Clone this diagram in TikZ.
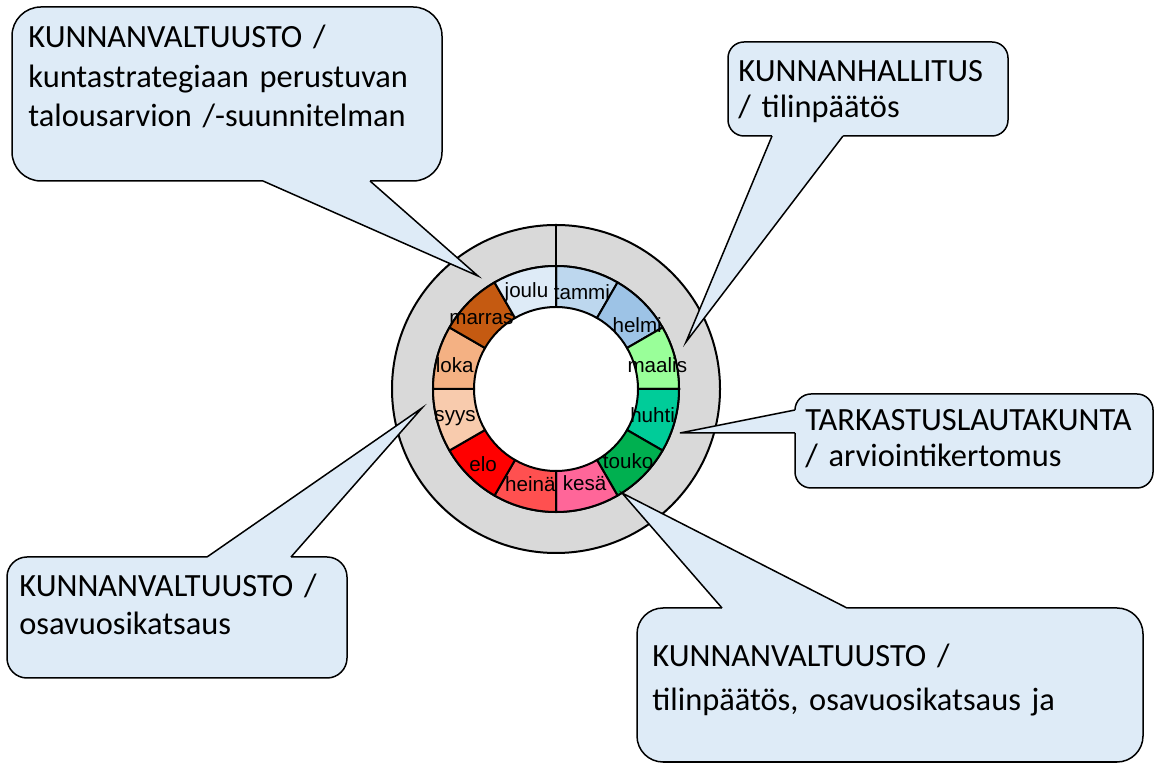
\documentclass[tikz,border=0pt]{standalone}
\usepackage{fontspec}
\setmainfont{Liberation Sans}
\newfontfamily\callfont{Carlito}
\usetikzlibrary{calc}

\definecolor{ringgray}{HTML}{D9D9D9}
\definecolor{boxblue}{HTML}{DEEBF7}
\definecolor{tammicol}{HTML}{BDD7EE}
\definecolor{helmicol}{HTML}{9DC3E6}
\definecolor{maaliscol}{HTML}{99FF99}
\definecolor{huhticol}{HTML}{00CC99}
\definecolor{toukocol}{HTML}{00B050}
\definecolor{kesacol}{HTML}{FF6699}
\definecolor{heinacol}{HTML}{FF5050}
\definecolor{elocol}{HTML}{FF0000}
\definecolor{syyscol}{HTML}{F8CBAD}
\definecolor{lokacol}{HTML}{F4B183}
\definecolor{marrascol}{HTML}{C55A11}
\definecolor{joulucol}{HTML}{DEEBF7}

\tikzset{
  ringline/.style={draw=black, line width=1pt},
  monlabel/.style={font=\fontsize{10.3}{12}\selectfont, inner sep=0pt},
  callbox/.style={draw=black, fill=boxblue, line width=0.75pt, inner sep=0pt, outer sep=0pt, anchor=north west},
  callline/.style={draw=black, line width=0.75pt, line join=miter},
  calltext/.style={font=\callfont\fontsize{16.2}{#1}\selectfont, inner sep=0pt, anchor=base west, align=left, text width=240pt},
}

\begin{document}
\begin{tikzpicture}[x=0.5pt,y=0.5pt]
\useasboundingbox (0,0) rectangle (1154,764);
\coordinate (ctr) at (556,375);
% outer ring
\draw[ringline, fill=ringgray, even odd rule] (ctr) circle[radius=164] (ctr) circle[radius=123];
\draw[ringline] ([shift={(90:123)}]ctr) -- ([shift={(90:164)}]ctr);
% months
\foreach \mcol [count=\i] in {tammicol, helmicol, maaliscol, huhticol, toukocol, kesacol, heinacol, elocol, syyscol, lokacol, marrascol, joulucol}
{
  \pgfmathsetmacro{\a}{120-30*\i}
  \pgfmathsetmacro{\b}{90-30*\i}
  \draw[ringline, fill=\mcol] ([shift={(\a:123)}]ctr) arc[start angle=\a, end angle=\b, radius=123]
    -- ([shift={(\b:82)}]ctr) arc[start angle=\b, end angle=\a, radius=82] -- cycle;
}
\foreach \mname/\ang/\rad [count=\i] in {tammi/75/100, helmi/38/103, maalis/13/104, huhti/-15/100, touko/-45/102, kesä/-73/98, heinä/-105/99, elo/-134/105, syys/-164/105, loka/167/104, marras/137/102, joulu/107/101}
  \node[monlabel] (mon\i) at ([shift={(\ang:\rad)}]ctr) {\mname};

% callout boxes
\node[callbox, rounded corners=14.5pt, minimum width=215pt, minimum height=87pt] (kv1) at (12,757) {};
\node[callbox, rounded corners=8pt, minimum width=140pt, minimum height=47pt] (kh) at (728,722) {};
\node[callbox, rounded corners=8pt, minimum width=179pt, minimum height=47pt] (tl) at (795,370) {};
\node[callbox, rounded corners=10pt, minimum width=170pt, minimum height=60.5pt] (kv2) at (7,207) {};
\node[callbox, rounded corners=13pt, minimum width=253pt, minimum height=77pt] (kv3) at (637,156) {};

% pointers
\coordinate (tip1) at (478,488);
\coordinate (tip2) at (686,422);
\coordinate (tip3) at (680,331);
\coordinate (tip4) at (422,356);
\coordinate (tip5) at (622,271);

\fill[boxblue] ($(kv1.south west)+(251,0)$) -- (tip1) -- ($(kv1.south west)+(358,0)$) -- ++(0,3) -- ($(kv1.south west)+(251,3)$) -- cycle;
\draw[callline] ($(kv1.south west)+(251,0)$) -- (tip1) -- ($(kv1.south west)+(358,0)$);

\fill[boxblue] ($(kh.south west)+(44,0)$) -- (tip2) -- ($(kh.south west)+(115,0)$) -- ++(0,3) -- ($(kh.south west)+(44,3)$) -- cycle;
\draw[callline] ($(kh.south west)+(44,0)$) -- (tip2) -- ($(kh.south west)+(115,0)$);

\fill[boxblue] ($(tl.north west)+(0,-16)$) -- (tip3) -- ($(tl.north west)+(0,-39)$) -- ++(3,0) -- ($(tl.north west)+(3,-16)$) -- cycle;
\draw[callline] ($(tl.north west)+(0,-16)$) -- (tip3) -- ($(tl.north west)+(0,-39)$);

\fill[boxblue] ($(kv2.north west)+(200,0)$) -- (tip4) -- ($(kv2.north west)+(284,0)$) -- ++(0,-3) -- ($(kv2.north west)+(200,-3)$) -- cycle;
\draw[callline] ($(kv2.north west)+(200,0)$) -- (tip4) -- ($(kv2.north west)+(284,0)$);

\fill[boxblue] ($(kv3.north west)+(85,0)$) -- (tip5) -- ($(kv3.north west)+(210,0)$) -- ++(0,-3) -- ($(kv3.north west)+(85,-3)$) -- cycle;
\draw[callline] ($(kv3.north west)+(85,0)$) -- (tip5) -- ($(kv3.north west)+(210,0)$);

% texts
\node[calltext=19.75pt] (kv1t) at (28,716) {KUNNANVALTUUSTO /\\kuntastrategiaan perustuvan\\talousarvion /-suunnitelman};
\node[calltext=18pt] (kht) at (738,682) {KUNNANHALLITUS\\/ tilinpäätös};
\node[calltext=18pt] (tlt) at (805,333) {TARKASTUSLAUTAKUNTA\\/ arviointikertomus};
\node[calltext=19pt] (kv2t) at (19,167) {KUNNANVALTUUSTO /\\osavuosikatsaus};
\node[calltext=22pt] (kv3t) at (652,97) {KUNNANVALTUUSTO /\\tilinpäätös, osavuosikatsaus ja};
\end{tikzpicture}
\end{document}
